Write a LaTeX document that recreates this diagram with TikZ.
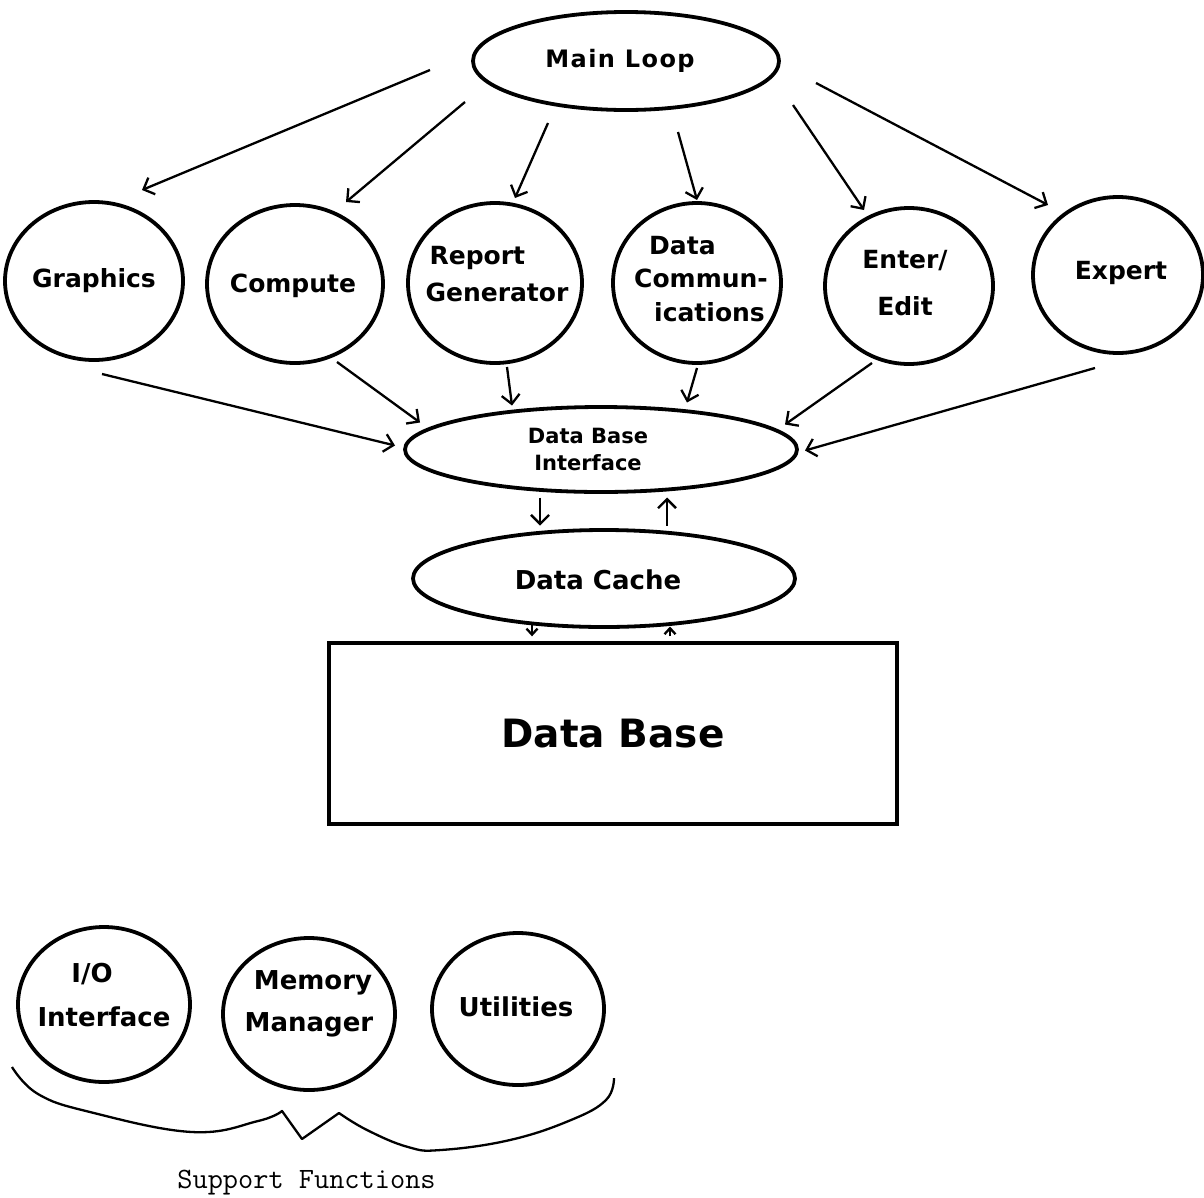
\documentclass[tikz,border=0pt]{standalone}
\usepackage{fontspec}
\setmainfont{DejaVu Sans}
\newfontfamily\mlfont[LetterSpace=6]{DejaVu Sans}
\usetikzlibrary{shapes.geometric,arrows.meta,calc}
\begin{document}
\begin{tikzpicture}[x=1pt,y=-1pt,
  bub/.style={draw,ellipse,line width=3.8pt,inner sep=0pt},
  lbl/.style={font=\fontsize{25}{37}\selectfont\bfseries,inner sep=0pt,align=center},
  arr/.style={line width=2.3pt,-{Straight Barb[length=9pt,width=18pt]}},
  sarr/.style={line width=2.3pt,-{Straight Barb[length=6pt,width=11pt]}},
  brace/.style={line width=2.3pt,line join=round}]
\useasboundingbox (0,0) rectangle (1204,1197);

% main loop
\node[bub,minimum width=306pt,minimum height=98pt] (ml) at (626,61) {};
\node[inner sep=0pt,font=\fontsize{24}{28}\mlfont\bfseries] (mllbl) at (620,61) {Main Loop};

% modules
\node[bub,minimum width=178pt,minimum height=158pt] (gr) at (94,281) {};
\node[bub,minimum width=176pt,minimum height=158pt] (co) at (295,284) {};
\node[bub,minimum width=174pt,minimum height=160pt] (rg) at (495,283) {};
\node[bub,minimum width=168pt,minimum height=160pt] (dc) at (697,283) {};
\node[bub,minimum width=168pt,minimum height=156pt] (ee) at (909,286) {};
\node[bub,minimum width=170pt,minimum height=156pt] (ex) at (1118,275) {};

\node[lbl] (grlbl) at (94,281) {Graphics};
\node[lbl] (colbl) at (293,286) {Compute};
\node[lbl,align=left] (rglbl) at (497,274) {\hspace*{4pt}Report\\Generator};
\node[lbl,align=left,font=\fontsize{25}{33.5}\selectfont\bfseries] (dclbl) at (701,279) {\hspace*{15pt}Data\\Commun-\\\hspace*{20pt}ications};
\node[lbl,font=\fontsize{25}{47}\selectfont\bfseries] (eelbl) at (905,283) {Enter/\\Edit};
\node[lbl] (exlbl) at (1121,273) {Expert};

% data base interface and cache
\node[bub,minimum width=392pt,minimum height=85pt] (dbi) at (601,449.5) {};
\node[inner sep=0pt,align=center,font=\fontsize{21}{27}\selectfont\bfseries] (dbilbl) at (588,449) {Data Base\\Interface};
\node[bub,minimum width=382pt,minimum height=97pt] (cache) at (604,578.5) {};
\node[inner sep=0pt,font=\fontsize{26}{30}\selectfont\bfseries] (cachelbl) at (598,580) {Data Cache};

% data base
\node[draw,line width=3.4pt,minimum width=568pt,minimum height=181pt,inner sep=0pt,
      font=\fontsize{39}{45}\selectfont\bfseries] (db) at (613,733.5) {Data Base};

% arrows from main loop
\draw[arr] ($(ml)+(-196,9)$) -- ($(gr)+(48,-91)$);
\draw[arr] ($(ml)+(-161,41)$) -- ($(co)+(51,-82)$);
\draw[arr] ($(ml)+(-78,62)$) -- ($(rg)+(20,-85)$);
\draw[arr] ($(ml)+(52,71)$) -- ($(dc)+(0,-83)$);
\draw[arr] ($(ml)+(167,44)$) -- ($(ee)+(-45,-76)$);
\draw[arr] ($(ml)+(190,22)$) -- ($(ex)+(-70,-70)$);

% arrows to data base interface
\draw[arr] ($(gr)+(8,93)$) -- ($(dbi)+(-206,-4)$);
\draw[arr] ($(co)+(42,78)$) -- ($(dbi)+(-181,-27)$);
\draw[arr] ($(rg)+(12,84)$) -- ($(dbi)+(-89,-44)$);
\draw[arr] ($(dc)+(0,85)$) -- ($(dbi)+(86,-47)$);
\draw[arr] ($(ee)+(-37,77)$) -- ($(dbi)+(184,-25)$);
\draw[arr] ($(ex)+(-23,93)$) -- ($(dbi)+(204,1)$);

% interface <-> cache
\draw[arr] ($(dbi)+(-61,48)$) -- ($(cache)+(-64,-53)$);
\draw[arr] ($(cache)+(63,-53)$) -- ($(dbi)+(66,48)$);

% cache <-> data base
\draw[sarr] ($(cache)+(-72,45)$) -- ($(db.north)+(-81,-5)$);
\draw[sarr] ($(db.north)+(57,-5)$) -- ($(cache)+(66,48)$);

% support functions
\node[bub,minimum width=172pt,minimum height=155pt] (io) at (104,1004.5) {};
\node[bub,minimum width=172pt,minimum height=152pt] (mm) at (309,1014) {};
\node[bub,minimum width=172pt,minimum height=152pt] (ut) at (518,1009) {};

\node[lbl,font=\fontsize{26}{44}\selectfont\bfseries] (iolbl) at (104,995) {\hspace*{-24pt}I/O\\Interface};
\node[lbl,font=\fontsize{26}{42}\selectfont\bfseries] (mmlbl) at (309,1004) {\hspace*{8pt}Memory\\Manager};
\node[lbl,font=\fontsize{26}{30}\selectfont\bfseries] (utlbl) at (516,1007) {Utilities};

\draw[brace] plot[smooth,tension=0.7] coordinates {(12,1067) (38,1094) (90,1112) (192,1132) (258,1121) (282,1111)}
  -- (302,1139) -- plot[smooth,tension=0.7] coordinates {(339,1113) (367,1130) (408,1147) (441,1150) (510,1140) (571,1120) (606,1100) (614,1078)};

\node[inner sep=0pt,anchor=base,font=\fontsize{29.5}{32}\selectfont\ttfamily] (sflbl) at (306.5,1188) {Support Functions};
\end{tikzpicture}
\end{document}
